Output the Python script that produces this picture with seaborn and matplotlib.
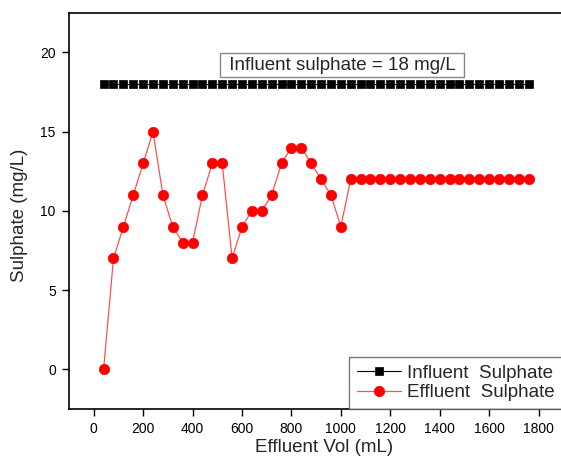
import matplotlib
matplotlib.use("Agg")
import matplotlib.pyplot as plt
import seaborn as sns

# effluent volume (mL) at each sampling point
volume = [40 * (i + 1) for i in range(44)]

influent = [18] * 44

effluent = [0, 7, 9, 11, 13, 15, 11, 9, 8, 8, 11, 13, 13, 7, 9, 10, 10, 11, 13, 14,
            14, 13, 12, 11, 9, 12, 12, 12, 12, 12, 12, 12, 12, 12, 12, 12, 12, 12, 12, 12,
            12, 12, 12, 12]

x_ticks = [0, 200, 400, 600, 800, 1000, 1200, 1400, 1600, 1800]
y_ticks = [0, 5, 10, 15, 20]

sns.set_style("ticks")
plt.rcParams["font.family"] = ["Liberation Sans", "DejaVu Sans"]

fig = plt.figure(figsize=(5.61, 4.57), dpi=100)
ax = fig.add_axes([0.123, 0.105, 0.881, 0.867])

sns.lineplot(x=volume, y=influent, ax=ax, color="black", linewidth=0.8,
             marker="s", markersize=5.5, markeredgecolor="black", markeredgewidth=0.5,
             label="Influent  Sulphate", legend=False)
sns.lineplot(x=volume, y=effluent, ax=ax, color="#ff5050", linewidth=0.9,
             marker="o", markersize=7.5, markerfacecolor="red", markeredgecolor="red",
             markeredgewidth=0.5, label="Effluent  Sulphate", legend=False)

ax.set_xlim(-100, 1900)
ax.set_ylim(-2.5, 22.5)
ax.set_xticks(x_ticks)
ax.set_yticks(y_ticks)
ax.tick_params(axis="both", direction="out", length=5, width=1, labelsize=10,
               colors="black", pad=4.5)
for sp in ax.spines.values():
    sp.set_visible(True)
    sp.set_color("black")
    sp.set_linewidth(1.2)

ax.set_xlabel("Effluent Vol (mL)", fontsize=13.5)
ax.set_ylabel("Sulphate (mg/L)", fontsize=13.5)
ax.xaxis.set_label_coords(0.516, -0.075)
ax.yaxis.set_label_coords(-0.082, 0.49)

ax.text(1005, 19.2, " Influent sulphate = 18 mg/L ", fontsize=13.5, ha="center", va="center",
        bbox=dict(boxstyle="square,pad=0.2", facecolor="white", edgecolor="#888888", linewidth=1))

handles, labels = ax.get_legend_handles_labels()
leg = fig.legend(handles, labels, loc="lower left", bbox_to_anchor=(349 / 561, 48 / 457),
                 fontsize=13.5, frameon=True, fancybox=False, edgecolor="#555555",
                 handlelength=2.35, handletextpad=0.32, labelspacing=0.12, borderpad=0.42,
                 borderaxespad=0)
leg.get_frame().set_linewidth(1)

fig.savefig("out.png", dpi=100)
